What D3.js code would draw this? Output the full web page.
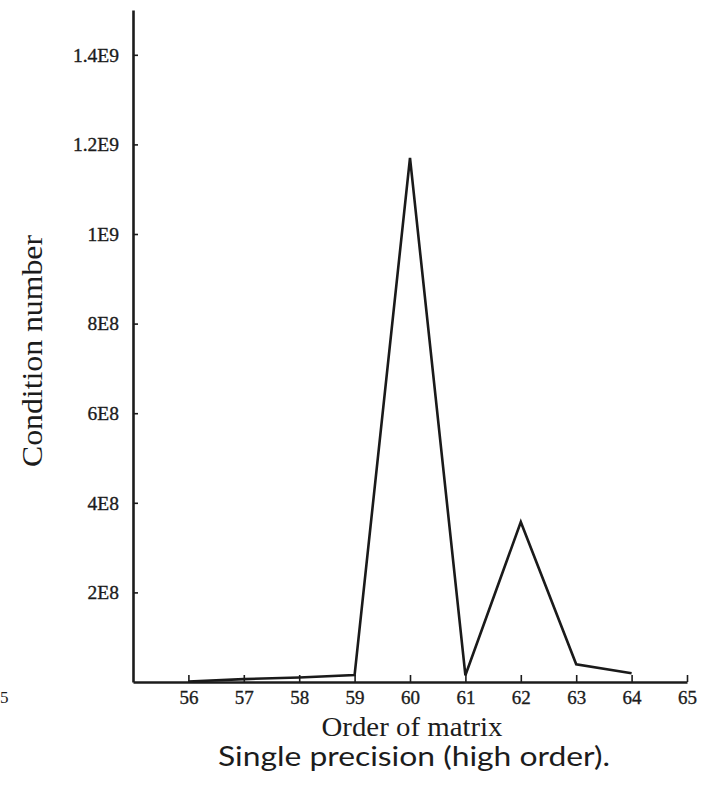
<!DOCTYPE html>
<html>
<head>
<meta charset="utf-8">
<script src="https://cdn.jsdelivr.net/npm/d3@7"></script>
<style>
  html, body { margin: 0; padding: 0; background: #fff; }
  svg { display: block; }
  .axis path, .axis line { stroke: #1c1c1c; }
  .axis text { font-family: "Liberation Serif", "Times New Roman", serif; fill: #1c1c1c; stroke: #1c1c1c; stroke-width: 0.35px; }
</style>
</head>
<body>
<svg id="chart" width="712" height="786"></svg>
<script>
// Matrix order and its condition number (single precision, high order)
const orders = [56, 57, 58, 59, 60, 61, 62, 63, 64];
const conditionNumbers = [1e6, 6.5e6, 1e7, 1.55e7, 1.17e9, 1.5e7, 3.57e8, 3.95e7, 1.95e7];

const xTicks = [56, 57, 58, 59, 60, 61, 62, 63, 64, 65];
const yTicks = [2e8, 4e8, 6e8, 8e8, 1e9, 1.2e9, 1.4e9];
const yTickLabels = ["2E8", "4E8", "6E8", "8E8", "1E9", "1.2E9", "1.4E9"];

const svg = d3.select("#chart");

const x = d3.scaleLinear().domain([55, 65]).range([133, 687]);
const y = d3.scaleLinear().domain([0, 1.5e9]).range([682, 10]);

// y axis: ticks point inward, labels in E notation
const yAxis = d3.axisLeft(y)
  .tickValues(yTicks)
  .tickFormat((d, i) => yTickLabels[i])
  .tickSizeInner(-5)
  .tickSizeOuter(0)
  .tickPadding(14);

svg.append("g")
  .attr("class", "axis")
  .attr("transform", `translate(${x(55)},0)`)
  .call(yAxis)
  .call(g => g.select(".domain").attr("stroke-width", 2.6))
  .call(g => g.selectAll(".tick line").attr("stroke-width", 1.6))
  .call(g => g.selectAll(".tick text").attr("font-size", 19.5));

// x axis
const xAxis = d3.axisBottom(x)
  .tickValues(xTicks)
  .tickFormat(d3.format("d"))
  .tickSizeInner(-7)
  .tickSizeOuter(0)
  .tickPadding(9);

svg.append("g")
  .attr("class", "axis")
  .attr("transform", `translate(0,${y(0)})`)
  .call(xAxis)
  .call(g => g.select(".domain").attr("stroke-width", 2.6))
  .call(g => g.selectAll(".tick line").attr("stroke-width", 1.6))
  .call(g => g.selectAll(".tick text").attr("font-size", 19));

// stray digit at the far left edge
svg.append("text")
  .attr("x", 0)
  .attr("y", 703)
  .attr("font-family", "Liberation Serif, serif")
  .attr("font-size", 17)
  .attr("fill", "#1c1c1c")
  .text("5");

// data line
const line = d3.line()
  .x((d, i) => x(orders[i]))
  .y(d => y(d));

svg.append("path")
  .datum(conditionNumbers)
  .attr("fill", "none")
  .attr("stroke", "#1a1a1a")
  .attr("stroke-width", 2.6)
  .attr("stroke-linejoin", "miter")
  .attr("d", line);

// axis titles
svg.append("text")
  .attr("transform", "translate(42,351) rotate(-90)")
  .attr("text-anchor", "middle")
  .attr("font-family", "Liberation Serif, serif")
  .attr("font-size", 30)
  .attr("fill", "#1c1c1c")
  .attr("textLength", 232)
  .attr("lengthAdjust", "spacingAndGlyphs")
  .text("Condition number");

svg.append("text")
  .attr("x", 412)
  .attr("y", 736)
  .attr("text-anchor", "middle")
  .attr("font-family", "Liberation Serif, serif")
  .attr("font-size", 28)
  .attr("fill", "#1c1c1c")
  .attr("textLength", 181)
  .attr("lengthAdjust", "spacingAndGlyphs")
  .text("Order of matrix");

// caption
svg.append("text")
  .attr("x", 414)
  .attr("y", 766)
  .attr("text-anchor", "middle")
  .attr("font-family", "Lato, 'Open Sans', sans-serif")
  .attr("font-size", 26)
  .attr("fill", "#1c1c1c")
  .attr("textLength", 392)
  .attr("lengthAdjust", "spacingAndGlyphs")
  .text("Single precision (high order).");
</script>
</body>
</html>
